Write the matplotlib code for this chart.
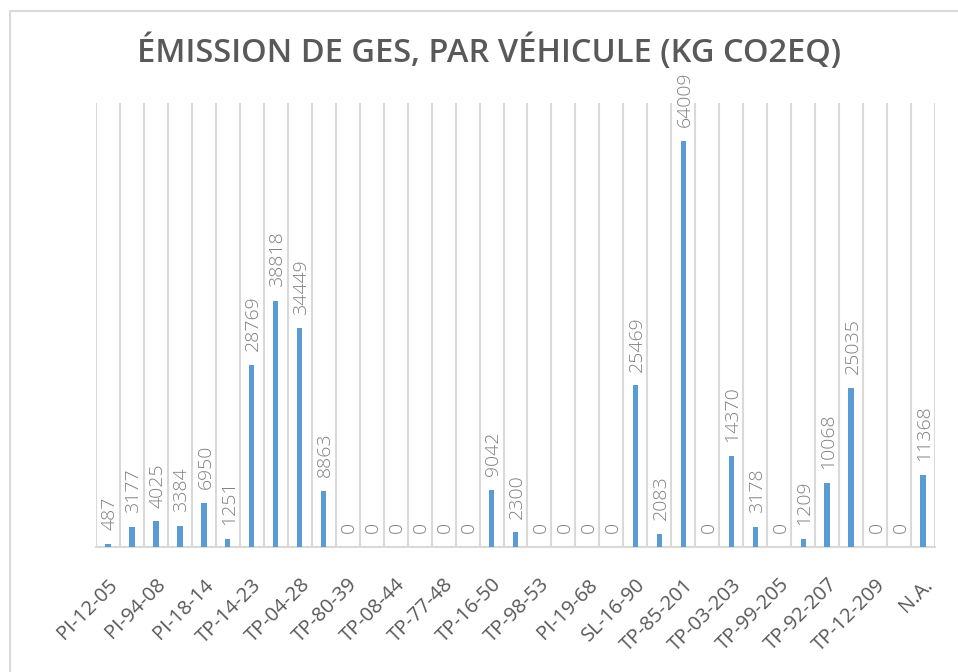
import numpy as np
import matplotlib
matplotlib.use("Agg")
import matplotlib.pyplot as plt
from matplotlib.patches import Rectangle

# emissions per vehicle (kg CO2eq), 35 vehicles, only every other label shown
values = [487, 3177, 4025, 3384, 6950, 1251, 28769, 38818, 34449, 8863,
          0, 0, 0, 0, 0, 0, 9042, 2300, 0, 0, 0, 0, 25469, 2083, 64009,
          0, 14370, 3178, 0, 1209, 10068, 25035, 0, 0, 11368]
tick_labels = ["PI-12-05", "PI-94-08", "PI-18-14", "TP-14-23", "TP-04-28",
               "TP-80-39", "TP-08-44", "TP-77-48", "TP-16-50", "TP-98-53",
               "PI-19-68", "SL-16-90", "TP-85-201", "TP-03-203", "TP-99-205",
               "TP-92-207", "TP-12-209", "N.A."]
title = "ÉMISSION DE GES, PAR VÉHICULE (KG CO2EQ)"

bar_color = "#5B9BD5"
grid_color = "#D9D9D9"
text_color = "#595959"

fig = plt.figure(figsize=(9.58, 6.72), dpi=100)
ax = fig.add_axes([96/958, 1-547/672, (935-96)/958, (547-103)/672])

x = np.arange(len(values))
ax.bar(x, values, width=0.22, color=bar_color, zorder=3)

# vertical gridlines at category boundaries
for b in np.arange(-0.5, len(values), 1.0):
    ax.axvline(b, color=grid_color, lw=1.5, zorder=1)

for xi, v in zip(x, values):
    ax.annotate(str(v), (xi, v), xytext=(1, 10), textcoords="offset points",
                rotation=90, ha="center", va="bottom", fontsize=14,
                family="Open Sans", fontweight="light", color="#808080", zorder=4)

ax.set_xlim(-0.5, len(values) - 0.5)
ax.set_ylim(0, 70000)
ax.set_yticks([])
ax.set_xticks(x[::2])
ax.set_xticklabels(tick_labels, rotation=45, ha="right", rotation_mode="anchor",
                   fontsize=14.5, family="Open Sans", color=text_color)
ax.tick_params(axis="x", length=0, pad=20)
for s in ["top", "left", "right"]:
    ax.spines[s].set_visible(False)
ax.spines["bottom"].set_color(grid_color)
ax.spines["bottom"].set_linewidth(1.5)

fig.text(0.51, 1-52/672, title, ha="center", va="center", fontsize=23.5,
         family="Open Sans", fontweight="semibold", color=text_color)

# chart border (cut off at right and bottom)
fig.patches.append(Rectangle((10/958, -0.1), 1.2, 1.1 - 11/672,
                             transform=fig.transFigure, fill=False,
                             ec=grid_color, lw=1.5))

fig.savefig("out.png", dpi=100)
